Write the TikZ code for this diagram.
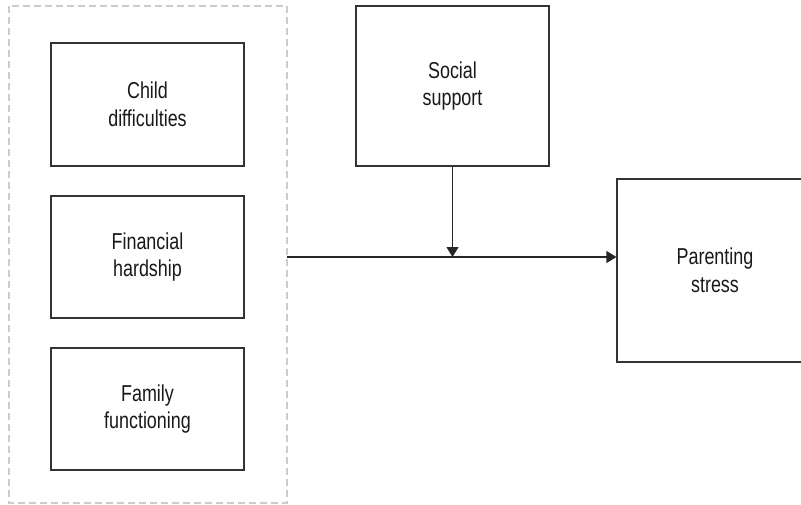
\documentclass[tikz,border=0pt]{standalone}
\usepackage{fontspec}
\setmainfont{Liberation Sans}[FakeStretch=0.78]
\usetikzlibrary{arrows.meta}
\begin{document}
\begin{tikzpicture}[x=1pt,y=-1pt,
  box/.style={draw=black!80, line width=1.2pt, fill=white, inner sep=0pt, align=center,
    font=\fontsize{23}{27.5}\selectfont, text=black!90},
  conn/.style={draw=black!85, line width=1.2pt, -{Triangle[length=10pt,width=12pt]}}]
\useasboundingbox (0,0) rectangle (801,504);
\draw[black!20, line width=1.3pt, dash pattern=on 7pt off 4pt] (9,6) rectangle (287,503);
\node[box, minimum width=193pt, minimum height=123pt] (child) at (147.5,104.5) {Child\\difficulties};
\node[box, minimum width=193pt, minimum height=122pt] (fin) at (147.5,257) {Financial\\hardship};
\node[box, minimum width=193pt, minimum height=122pt] (fam) at (147.5,409) {Family\\functioning};
\node[box, minimum width=193pt, minimum height=160pt] (soc) at (452.5,86) {Social\\support};
\node[box, minimum width=196pt, minimum height=183pt] (par) at (715,270.5) {Parenting\\stress};
\coordinate (src) at (287,257);
\coordinate (mid) at (452.5,257);
\draw[conn] (src) -- (par.west |- src);
\draw[conn] (soc.south) -- (mid);
\end{tikzpicture}
\end{document}
